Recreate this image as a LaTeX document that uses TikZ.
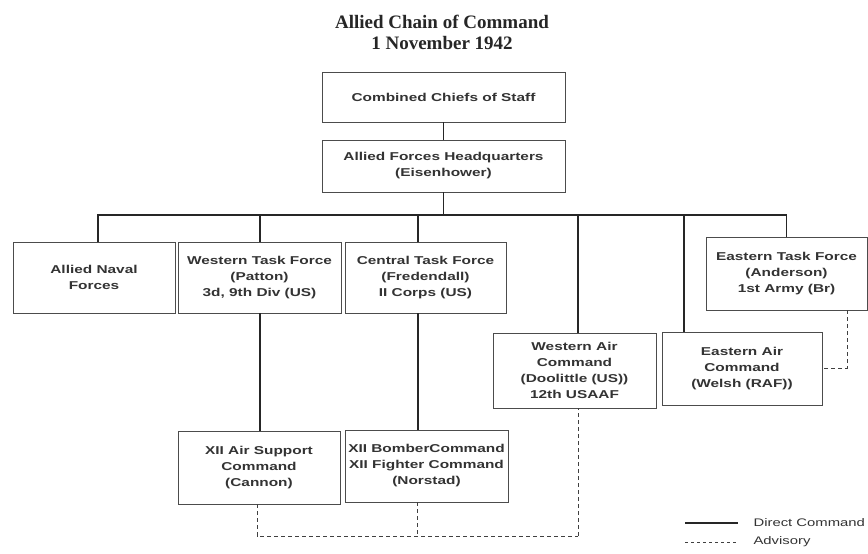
\documentclass[tikz,border=0pt]{standalone}
\usepackage{fontspec}
\setmainfont{Liberation Serif}
\newfontfamily\boxfont[FakeStretch=1.35]{Liberation Sans}
\usetikzlibrary{calc, positioning}

\begin{document}
\begin{tikzpicture}[x=1pt, y=-1pt,
      b/.style={draw=black!70, line width=0.9pt, fill=white, align=center, inner sep=0pt,
        text=black!80, font=\boxfont\bfseries\fontsize{11.4}{16}\selectfont},
      cmd/.style={draw=black!85, line width=1.3pt},
      adv/.style={draw=black!75, line width=0.9pt, dash pattern=on 4pt off 3pt}]
      \useasboundingbox (0,0) rectangle (868,554);

      % title
      \node[font=\bfseries\fontsize{19}{21}\selectfont, text=black!85, align=center] (title) at (442,32) {Allied Chain of Command\\1 November 1942};

      % top of the chain
      \draw node[b, minimum width=243, minimum height=50] (ccs) at (443.5,97) {Combined Chiefs of Staff};
      \draw node[b, minimum width=243, minimum height=52] (afhq) at (443.5,166) {Allied Forces Headquarters\\(Eisenhower)};
      \draw[cmd] (ccs) -- (afhq);
      \coordinate (bus) at (443.5,215);
      \draw[cmd] (afhq) -- (bus);

      % task forces
      \draw node[b, minimum width=162, minimum height=71] (naval) at (94,277.5) {Allied Naval\\Forces};
      \draw node[b, minimum width=163, minimum height=71] (wtf) at (259.5,277.5) {Western Task Force\\(Patton)\\3d, 9th Div (US)};
      \draw node[b, minimum width=161, minimum height=71] (ctf) at (425.5,277.5) {Central Task Force\\(Fredendall)\\II Corps (US)};
      \draw node[b, minimum width=161, minimum height=73] (etf) at (786.5,273.5) {Eastern Task Force\\(Anderson)\\1st Army (Br)};

      % air commands
      \draw node[b, minimum width=163, minimum height=75] (wac) at (574.5,370.5) {Western Air\\Command\\(Doolittle (US))\\12th USAAF};
      \draw node[b, minimum width=160, minimum height=73] (eac) at (742,368.5) {Eastern Air\\Command\\(Welsh (RAF))};

      \draw[cmd] ([xshift=4]naval.north) |- (bus);
      \draw[cmd] ([xshift=0.5]wtf.north) |- (bus);
      \draw[cmd] ([xshift=-7.5]ctf.north) |- (bus);
      \draw[cmd] ([xshift=3.5]wac.north) |- (bus);
      \draw[cmd] ([xshift=-58]eac.north) |- (bus);
      \draw[cmd] (etf.north) |- (bus);

      % subordinate air units
      \draw node[b, minimum width=162, minimum height=73] (xasc) at (259,467.5) {XII Air Support\\Command\\(Cannon)};
      \draw node[b, minimum width=163, minimum height=72] (xbc) at (426.5,466) {XII BomberCommand\\XII Fighter Command\\(Norstad)};
      \draw[cmd] ([xshift=0.5]wtf.south) -- ([xshift=1]xasc.north);
      \draw[cmd] ([xshift=-7.5]ctf.south) -- ([xshift=-8.5]xbc.north);

      % advisory links
      \draw[adv] ([xshift=60.5]etf.south) |- (eac.east);
      \coordinate (advbus) at (578,536);
      \draw[adv] ([xshift=-2]xasc.south) |- (advbus);
      \draw[adv] ([xshift=-9.5]xbc.south) -- ++(0,34);
      \draw[adv] (advbus) -- ([xshift=3.5]wac.south);

      % legend
      \node[anchor=west, text=black!80, font=\boxfont\fontsize{11}{13}\selectfont] (lgcmd) at (750,523) {Direct Command};
      \node[anchor=west, text=black!80, font=\boxfont\fontsize{11}{13}\selectfont] (lgadv) at (750,542) {Advisory};
      \draw[cmd, line width=1.1pt] ([xshift=-65]lgcmd.west) -- ([xshift=-12]lgcmd.west);
      \draw[adv, line width=0.7pt, dash pattern=on 3pt off 3pt] ([xshift=-65]lgadv.west) -- ([xshift=-12]lgadv.west);
    \end{tikzpicture}
\end{document}
